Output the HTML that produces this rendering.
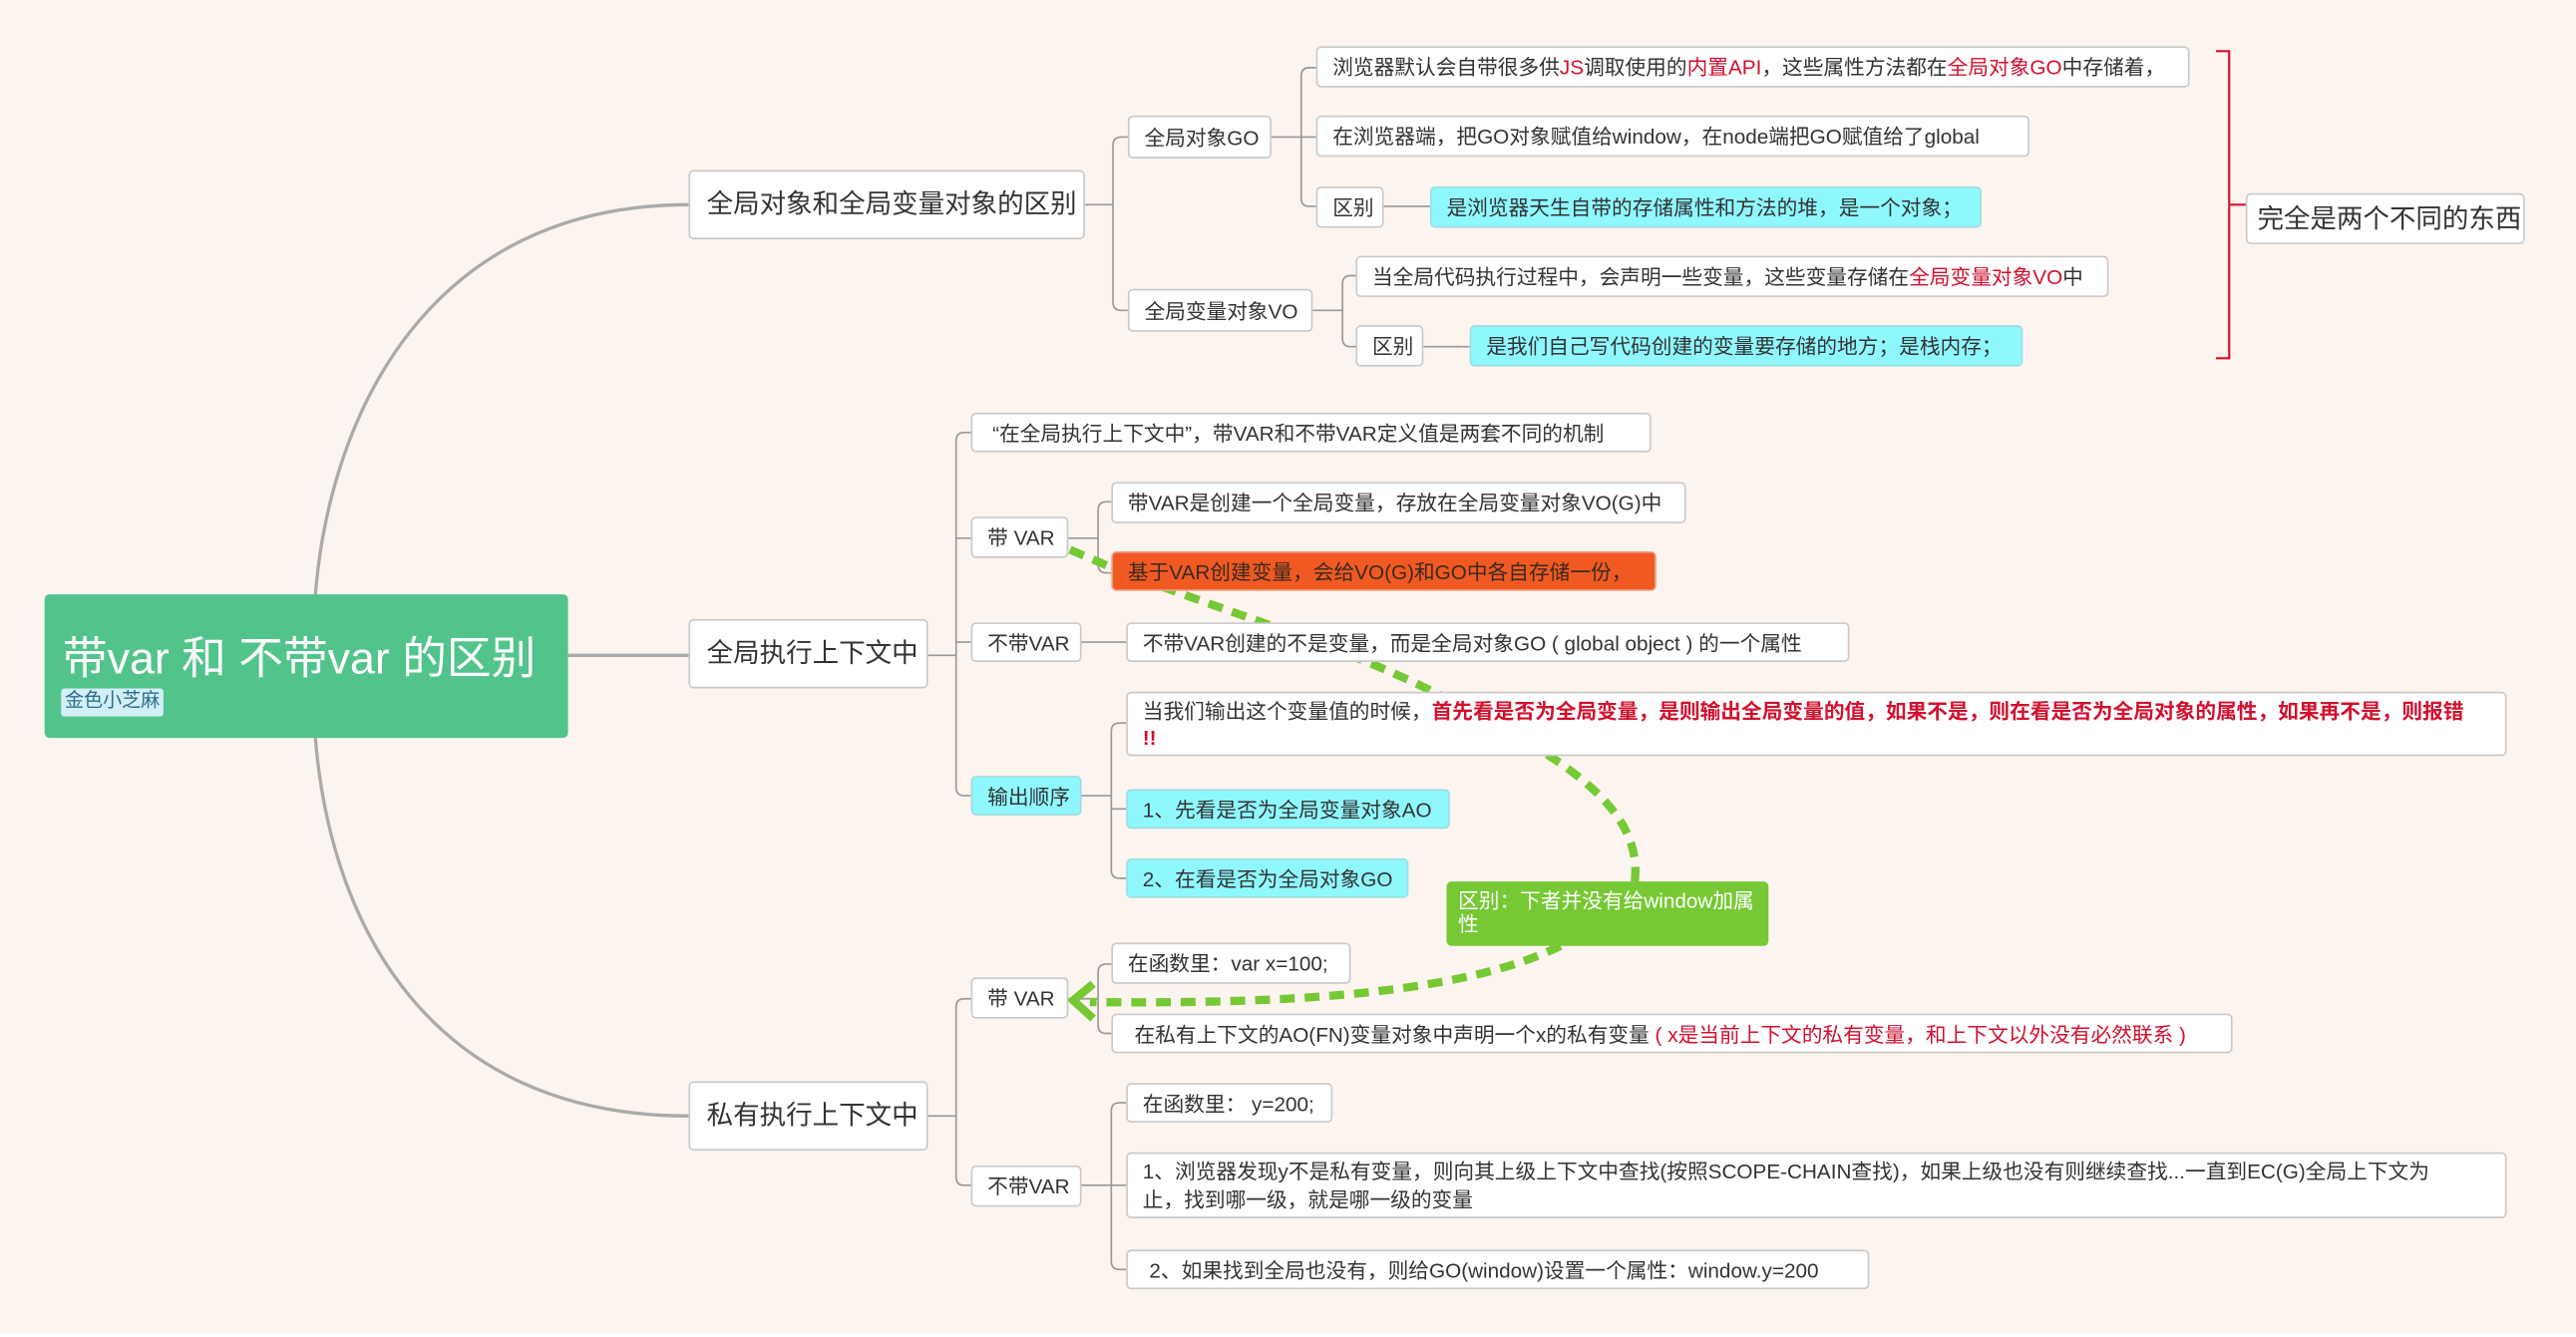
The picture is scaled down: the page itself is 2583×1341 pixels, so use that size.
<!DOCTYPE html>
<html><head><meta charset="utf-8">
<style>
html,body{margin:0;padding:0;background:#fcf4ef;}
body{width:2583px;height:1340px;overflow:hidden;position:relative;}
#w{position:absolute;left:0;top:0;width:1560px;height:809px;transform:scale(1.65577);transform-origin:0 0;font-family:"Liberation Sans","Noto Sans CJK SC",sans-serif;}
.n{position:absolute;background:#fff;border:1px solid #c9c9c9;border-radius:3px;font-size:12.5px;color:#333;padding-left:9px;box-sizing:border-box;white-space:nowrap;}
.c{background:#8ff8ff;border-color:#9ddde0;}
.r{color:#d2102e;}
.b{color:#d2102e;font-weight:bold;}
.l1{font-size:16px;padding-left:10px;}
svg{position:absolute;left:0;top:0;}
</style></head><body><div id="w">
<svg width="1560" height="809">
<g fill="none" stroke="#aaa" stroke-width="2">
<path d="M191 360 C200 250 260 124 417 124"/>
<path d="M344 397 L417 397"/>
<path d="M191 447 C200 560 260 676 417 676"/>
</g>
<g fill="none" stroke="#999" stroke-width="1">
<path d="M657 124 H674 M674 88 V183 Q674 188 679 188 H683 M674 88 Q674 83 679 83 H683"/>
<path d="M770 83 H788 M788 46 V120 Q788 125 793 125 H797 M788 46 Q788 41 793 41 H797 M788 83 H797"/>
<path d="M838 125 H866"/>
<path d="M795 188 H813 M813 172 V205 Q813 210 818 210 H821 M813 172 Q813 167 818 167 H821"/>
<path d="M862 210 H890"/>
<path d="M562 397 H579 M579 267 V477 Q579 482 584 482 H588 M579 267 Q579 262 584 262 H588 M579 326 H588 M579 389 H588"/>
<path d="M647 326 H665 M665 309 V342 Q665 347 670 347 H673 M665 309 Q665 304 670 304 H673"/>
<path d="M655 389 H682"/>
<path d="M655 482 H673 M673 443 V527 Q673 532 678 532 H682 M673 443 Q673 438 678 438 H682 M673 490 H682"/>
<path d="M562 676 H579 M579 610 V713 Q579 718 584 718 H588 M579 610 Q579 605 584 605 H588"/>
<path d="M647 605 H665 M665 589 V621 Q665 626 670 626 H673 M665 589 Q665 584 670 584 H673"/>
<path d="M655 718 H673 M673 673 V764 Q673 769 678 769 H682 M673 673 Q673 668 678 668 H682 M673 718 H682"/>
</g>
<path d="M1342 31 H1350 V217 H1342 M1350 124 H1360" fill="none" stroke="#d2102e" stroke-width="1.3"/>
<g fill="none" stroke="#76c934" stroke-width="5" stroke-dasharray="9 6">
<path d="M648 333 C720 365 800 385 870 420 C950 460 995 490 990 534"/>
<path d="M945 573 C880 605 760 608 660 607"/>
</g>
<path d="M662 596 L650 606 L662 617" fill="none" stroke="#76c934" stroke-width="5"/>
</svg>

<div style="position:absolute;left:27px;top:360px;width:317px;height:87px;background:#52c48b;border-radius:3px;"></div>
<div style="position:absolute;left:38px;top:377px;font-size:27px;color:#fff;white-space:nowrap;">带var 和 不带var 的区别</div>
<div style="position:absolute;left:37px;top:417px;width:62px;height:17px;background:#d3eef5;border-radius:2px;font-size:11.5px;color:#2a6f8a;line-height:17px;text-align:center;">金色小芝麻</div>

<div class="n l1" style="left:417px;top:103px;width:240px;height:42px;line-height:42px;">全局对象和全局变量对象的区别</div>
<div class="n l1" style="left:417px;top:375px;width:145px;height:42px;line-height:42px;">全局执行上下文中</div>
<div class="n l1" style="left:417px;top:655px;width:145px;height:42px;line-height:42px;">私有执行上下文中</div>

<div class="n" style="left:683px;top:70px;width:87px;height:26px;line-height:26px;">全局对象GO</div>
<div class="n" style="left:683px;top:175px;width:112px;height:26px;line-height:26px;">全局变量对象VO</div>
<div class="n" style="left:797px;top:28px;width:529px;height:25px;line-height:25px;">浏览器默认会自带很多供<span class="r">JS</span>调取使用的<span class="r">内置API</span>，这些属性方法都在<span class="r">全局对象GO</span>中存储着，</div>
<div class="n" style="left:797px;top:70px;width:432px;height:25px;line-height:25px;">在浏览器端，把GO对象赋值给window，在node端把GO赋值给了global</div>
<div class="n" style="left:797px;top:113px;width:41px;height:25px;line-height:25px;">区别</div>
<div class="n c" style="left:866px;top:113px;width:334px;height:25px;line-height:25px;">是浏览器天生自带的存储属性和方法的堆，是一个对象；</div>
<div class="n" style="left:821px;top:155px;width:456px;height:25px;line-height:25px;">当全局代码执行过程中，会声明一些变量，这些变量存储在<span class="r">全局变量对象VO</span>中</div>
<div class="n" style="left:821px;top:197px;width:41px;height:25px;line-height:25px;">区别</div>
<div class="n c" style="left:890px;top:197px;width:335px;height:25px;line-height:25px;">是我们自己写代码创建的变量要存储的地方；是栈内存；</div>
<div class="n l1" style="left:1360px;top:117px;width:169px;height:31px;line-height:31px;padding-left:6px;">完全是两个不同的东西</div>

<div class="n" style="left:588px;top:250px;width:412px;height:24px;line-height:24px;padding-left:12px;">“在全局执行上下文中”，带VAR和不带VAR定义值是两套不同的机制</div>
<div class="n" style="left:588px;top:313px;width:59px;height:25px;line-height:25px;">带 VAR</div>
<div class="n" style="left:673px;top:292px;width:348px;height:25px;line-height:25px;">带VAR是创建一个全局变量，存放在全局变量对象VO(G)中</div>
<div class="n" style="left:673px;top:334px;width:330px;height:24px;line-height:24px;background:#f05a22;border-color:#e9a080;color:#3a2a20;">基于VAR创建变量，会给VO(G)和GO中各自存储一份，</div>
<div class="n" style="left:588px;top:377px;width:67px;height:24px;line-height:24px;">不带VAR</div>
<div class="n" style="left:682px;top:377px;width:438px;height:24px;line-height:24px;">不带VAR创建的不是变量，而是全局对象GO ( global object ) 的一个属性</div>
<div class="n c" style="left:588px;top:470px;width:67px;height:24px;line-height:24px;">输出顺序</div>
<div class="n" style="left:682px;top:419px;width:836px;height:39px;line-height:16px;padding-top:3px;">当我们输出这个变量值的时候，<span class="b">首先看是否为全局变量，是则输出全局变量的值，如果不是，则在看是否为全局对象的属性，如果再不是，则报错<br>!!</span></div>
<div class="n c" style="left:682px;top:478px;width:196px;height:24px;line-height:24px;">1、先看是否为全局变量对象AO</div>
<div class="n c" style="left:682px;top:520px;width:171px;height:24px;line-height:24px;">2、在看是否为全局对象GO</div>
<div style="position:absolute;left:876px;top:534px;width:195px;height:39px;background:#76c934;border-radius:3px;color:#fff;font-size:12.5px;line-height:14px;padding:5px 0 0 7px;box-sizing:border-box;">区别：下者并没有给window加属<br>性</div>

<div class="n" style="left:588px;top:592px;width:59px;height:25px;line-height:25px;">带 VAR</div>
<div class="n" style="left:673px;top:571px;width:145px;height:25px;line-height:25px;">在函数里：var x=100;</div>
<div class="n" style="left:673px;top:614px;width:679px;height:24px;line-height:24px;padding-left:13px;">在私有上下文的AO(FN)变量对象中声明一个x的私有变量<span class="r"> ( x是当前上下文的私有变量，和上下文以外没有必然联系 )</span></div>
<div class="n" style="left:588px;top:706px;width:67px;height:25px;line-height:25px;">不带VAR</div>
<div class="n" style="left:682px;top:656px;width:125px;height:24px;line-height:24px;">在函数里： y=200;</div>
<div class="n" style="left:682px;top:698px;width:836px;height:40px;line-height:17px;padding-top:3px;">1、浏览器发现y不是私有变量，则向其上级上下文中查找(按照SCOPE-CHAIN查找)，如果上级也没有则继续查找...一直到EC(G)全局上下文为<br>止，找到哪一级，就是哪一级的变量</div>
<div class="n" style="left:682px;top:757px;width:450px;height:24px;line-height:24px;padding-left:13px;">2、如果找到全局也没有，则给GO(window)设置一个属性：window.y=200</div>
<div style="position:absolute;left:0;top:808px;width:1560px;height:2px;background:#fff;"></div>
</div></body></html>
